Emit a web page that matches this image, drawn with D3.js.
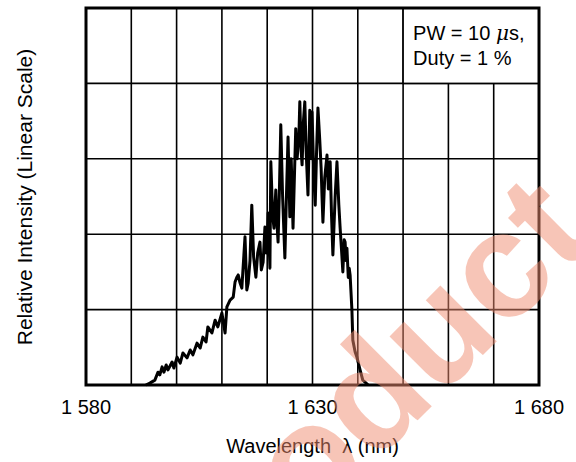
<!DOCTYPE html>
<html><head><meta charset="utf-8">
<script src="https://cdn.jsdelivr.net/npm/d3@7"></script>
<style>body{margin:0;background:#fff}svg{display:block}</style>
</head><body>
<svg id="c" width="576" height="462"></svg>
<script>
// Data
const wavelength = [1593.2,1594.1,1595.2,1595.9,1596.3,1596.8,1597.2,1597.7,1598.1,1599.0,1599.4,1600.1,1600.8,1601.4,1602.3,1603.0,1603.6,1604.5,1605.2,1605.8,1606.5,1606.9,1607.8,1608.5,1609.1,1610.0,1610.7,1611.1,1611.8,1612.5,1612.9,1613.3,1613.6,1614.0,1614.4,
  1615.1,1615.5,1615.8,1616.2,1616.6,1617.0,1617.5,1617.9,1618.4,1618.7,1619.1,1619.5,1619.8,1620.0,1620.2,1620.6,1620.8,1621.2,1621.5,1621.9,1622.1,1622.4,1622.7,1623.0,1623.4,1623.9,1624.2,1624.6,1625.0,1625.3,1625.7,1626.0,1626.3,1626.6,1627.0,1627.2,1627.5,1627.7,1628.0,1628.3,1628.6,1629.0,1629.4,1629.7,1629.9,1630.3,1630.6,1630.9,1631.2,1631.6,1631.9,1632.1,1632.3,1632.7,1633.2,1633.5,1633.9,1634.2,1634.5,1635.0,1635.4,1635.8,1636.1,1636.4,1636.7,1637.0,1637.2,1637.4,1637.6,1637.9,1638.1,1638.3,
  1638.7,1638.9,1639.4,1639.8,1640.5,1641.1,1642.3];
const intensity = [0,0.5,1.3,3.4,2.7,4.8,3.4,5.3,4.0,6.1,4.5,7.4,5.8,8.5,7.2,9.3,8.0,11.1,9.8,12.7,11.4,15.4,13.8,17.2,15.4,19.1,13.8,20.7,22.5,23.3,27.3,28.6,29.2,27.1,25.7,
  39.3,25.2,27.0,33.0,47.7,34.0,28.6,35.0,37.9,30.5,32.6,41.9,35.0,37.7,45.6,31.0,59.2,45.0,41.6,51.7,44.0,37.9,52.0,69.0,50.0,33.7,48.0,65.8,44.6,60.0,41.6,55.0,68.0,60.0,66.3,75.1,62.0,58.4,70.0,75.1,62.0,50.4,72.9,60.0,72.4,55.0,47.7,62.0,73.5,65.0,57.6,50.0,43.2,55.0,61.0,52.0,59.2,45.0,34.5,50.0,59.2,48.0,41.6,36.0,30.0,38.5,37.9,33.0,36.3,28.5,31.0,29.2,
  19.9,11.9,8.8,7.4,4.0,1.3,0];
const xGrid = [1580,1590,1600,1610,1620,1630,1640,1650,1660,1670,1680];
const yGrid = [0,20,40,60,80,100];
const xTickLabels = [[1580,"1 580"],[1630,"1 630"],[1680,"1 680"]];
const noteLines = ["PW = 10 ", "Duty = 1 %"];

const svg = d3.select("#c");
const m = {l:86, r:539, t:8, b:385};
const x = d3.scaleLinear().domain([1580,1680]).range([m.l,m.r]);
const y = d3.scaleLinear().domain([0,100]).range([m.b,m.t]);
const font = "'Liberation Sans', Arial, Helvetica, sans-serif";

// grid
svg.append("g").selectAll("line").data(xGrid).join("line")
  .attr("x1",d=>x(d)).attr("x2",d=>x(d)).attr("y1",y(0)).attr("y2",y(100))
  .attr("stroke","#000").attr("stroke-width",1.6);
svg.append("g").selectAll("line").data(yGrid).join("line")
  .attr("x1",x(1580)).attr("x2",x(1680)).attr("y1",d=>y(d)).attr("y2",d=>y(d))
  .attr("stroke","#000").attr("stroke-width",1.6);

// note box
svg.append("rect").attr("x",x(1650)).attr("y",y(100)).attr("width",x(1680)-x(1650)).attr("height",y(80)-y(100))
  .attr("fill","#fff").attr("stroke","#000").attr("stroke-width",1.6);
const note = svg.append("g").attr("font-family",font).attr("font-size",20).attr("fill","#000");
const t1 = note.append("text").attr("x",x(1650)+10).attr("y",40).attr("xml:space","preserve");
t1.append("tspan").text(noteLines[0]);
t1.append("tspan").attr("font-style","italic").attr("font-family","'DejaVu Serif', serif").text("\u03bc");
t1.append("tspan").text("s,");
note.append("text").attr("x",x(1650)+10).attr("y",65).text(noteLines[1]);

// spectrum
const pts = wavelength.map((w,i)=>[w,intensity[i]]);
svg.append("path").datum(pts)
  .attr("d", d3.line().x(d=>x(d[0])).y(d=>y(d[1])))
  .attr("fill","none").attr("stroke","#000").attr("stroke-width",3).attr("stroke-linejoin","round");

// frame
svg.append("rect").attr("x",m.l).attr("y",m.t).attr("width",m.r-m.l).attr("height",m.b-m.t)
  .attr("fill","none").attr("stroke","#000").attr("stroke-width",3);

// tick labels
svg.append("g").selectAll("text").data(xTickLabels).join("text")
  .attr("x",d=>x(d[0])).attr("y",414).attr("text-anchor","middle")
  .attr("font-family",font).attr("font-size",20).text(d=>d[1]);

// axis titles
svg.append("text").attr("x",x(1630)).attr("y",453).attr("text-anchor","middle")
  .attr("font-family",font).attr("font-size",20).attr("xml:space","preserve")
  .text("Wavelength  \u03bb (nm)");
svg.append("text").attr("transform","translate(32,197) rotate(-90)").attr("text-anchor","middle")
  .attr("font-family",font).attr("font-size",21).text("Relative Intensity (Linear Scale)");

// watermark
svg.append("text").attr("transform","translate(598,240) rotate(-45)").attr("text-anchor","end")
  .attr("font-family",font).attr("font-weight","bold").attr("font-size",150)
  .attr("fill","#f08c70").attr("fill-opacity",0.5).text("Product");
</script>
</body></html>
